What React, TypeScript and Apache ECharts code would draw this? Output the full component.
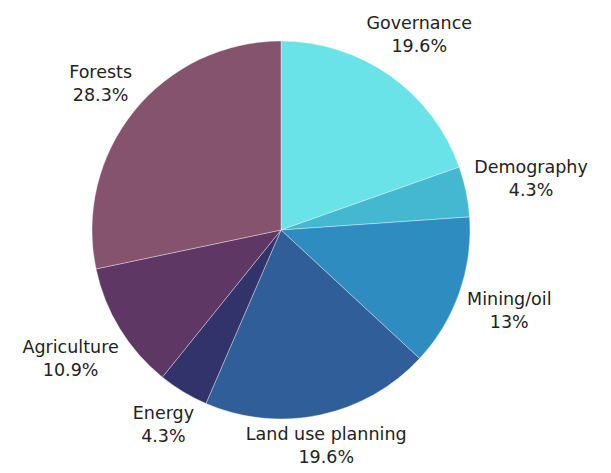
import React, { useEffect, useRef } from "react";
import * as echarts from "echarts";

const categories = ["Governance", "Demography", "Mining/oil", "Land use planning", "Energy", "Agriculture", "Forests"];
const shares = [19.6, 4.3, 13, 19.6, 4.3, 10.9, 28.3];
const colors = ["#6ae3e8", "#44b7d1", "#2e8cc0", "#305e98", "#33336b", "#5e3765", "#86536f"];

function nearestDist(px: number, py: number, a: number, b: number) {
  const nx = Math.max(px - a, Math.min(0, px + a));
  const ny = Math.max(py - b, Math.min(0, py + b));
  return Math.sqrt(nx * nx + ny * ny);
}

export default function App() {
  const ref = useRef<HTMLDivElement>(null);
  useEffect(() => {
    if (!ref.current) return;
    const chart = echarts.init(ref.current, null, { renderer: "svg" });
    const gap = 7;
    chart.setOption({
      animation: false,
      backgroundColor: "#ffffff",
      series: [
        {
          type: "pie",
          center: [281, 230],
          radius: 189,
          startAngle: 90,
          clockwise: true,
          avoidLabelOverlap: false,
          data: categories.map((name, i) => ({
            name,
            value: shares[i],
            itemStyle: { color: colors[i] },
          })),
          itemStyle: { borderColor: "rgba(255,255,255,0.45)", borderWidth: 0.8 },
          label: {
            show: true,
            position: "outside",
            formatter: "{b}\n{c}%",
            fontFamily: "DejaVu Sans",
            fontSize: 17.5,
            lineHeight: 23,
            color: "#222222",
          },
          labelLine: { show: false, length: 8, length2: 0 },
          emphasis: { disabled: true },
          labelLayout: (params: any) => {
            try {
              const data = (chart as any).getModel().getSeriesByIndex(0).getData();
              const l = data.getItemLayout(params.dataIndex);
              const mid = (l.startAngle + l.endAngle) / 2;
              const dx = Math.cos(mid);
              const dy = Math.sin(mid);
              const a = params.labelRect.width / 2;
              const b = params.labelRect.height / 2 - 4;
              const target = l.r + gap;
              let lo = 0;
              let hi = l.r + 400;
              for (let k = 0; k < 60; k++) {
                const t = (lo + hi) / 2;
                if (nearestDist(t * dx, t * dy, a, b) < target) lo = t;
                else hi = t;
              }
              const t = (lo + hi) / 2;
              return {
                x: l.cx + t * dx,
                y: l.cy + t * dy,
                align: "center",
                verticalAlign: "middle",
              };
            } catch (e) {
              return {};
            }
          },
        },
      ],
    });
    return () => chart.dispose();
  }, []);
  return (
    <div
      ref={ref}
      style={{ position: "fixed", left: 0, top: 0, width: 611, height: 473 }}
    />
  );
}
